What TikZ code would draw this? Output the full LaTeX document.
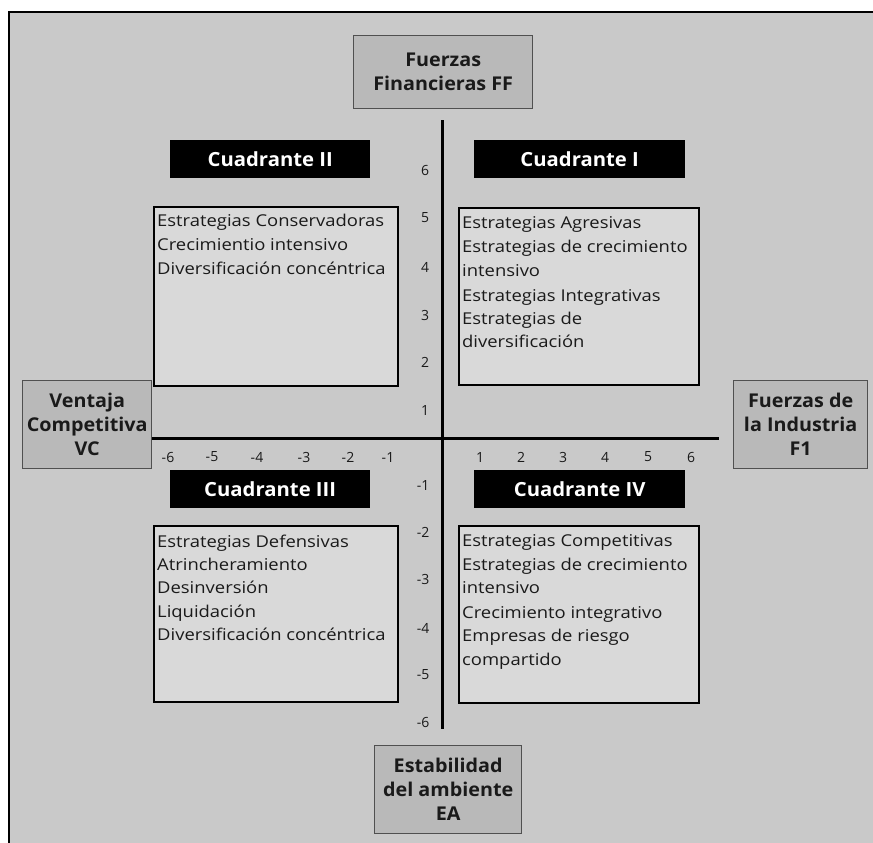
\documentclass[tikz,border=0pt]{standalone}
\usepackage{fontspec}
\setmainfont{Open Sans}
\newfontfamily\bodyfont[FakeStretch=1.13]{Open Sans}
\newfontfamily\labfont[FakeStretch=1.04]{Open Sans}
\definecolor{panel}{HTML}{C9C9C9}
\definecolor{qfill}{HTML}{D9D9D9}
\definecolor{lfill}{HTML}{B9B9B9}
\definecolor{lborder}{HTML}{505050}
\definecolor{ink}{HTML}{1A1A1A}
\begin{document}
\begin{tikzpicture}[x=1pt,y=-1pt,
  qbox/.style={draw=black,line width=1.8pt,fill=qfill,anchor=north west,inner sep=0pt},
  lbox/.style={draw=lborder,line width=1.4pt,fill=lfill,anchor=north west,inner sep=0pt},
  cbox/.style={fill=black,anchor=north west,inner sep=0pt},
  ctxt/.style={text=white,font=\labfont\fontsize{19.5}{22}\selectfont\bfseries,inner sep=0pt},
  ltxt/.style={text=ink,font=\labfont\fontsize{19}{24}\selectfont\bfseries,align=center,inner sep=0pt},
  btxt/.style={text=ink,font=\bodyfont\fontsize{16.3}{20}\selectfont,anchor=base west,inner sep=0pt},
  tick/.style={text=ink,font=\fontsize{14}{16}\selectfont,inner sep=0pt},
  axis/.style={line width=3pt,black}]
\useasboundingbox (0,0) rectangle (873,843);
\fill[white] (0,0) rectangle (873,843);
\fill[panel] (9,12) rectangle (873,843);
\draw[line width=2.2pt,black] (9,843) -- (9,12) -- (873,12);

% axes
\coordinate (vtop) at (442,120);
\coordinate (vbot) at (442,729);
\coordinate (hl) at (152,438);
\coordinate (hr) at (719,438);
\draw[axis] (vtop) -- (vbot);
\draw[axis] (hl) -- (hr);

% label boxes
\node[lbox,minimum width=179pt,minimum height=73pt] (ff) at (353,35) {};
\node[ltxt] (fft) at (ff.center) {Fuerzas\\Financieras FF};
\node[lbox,minimum width=129pt,minimum height=88pt] (vc) at (22,380) {};
\node[ltxt] (vct) at (vc.center) {Ventaja\\Competitiva\\VC};
\node[lbox,minimum width=134pt,minimum height=88pt] (fi) at (733,380) {};
\node[ltxt] (fit) at (fi.center) {Fuerzas de\\la Industria\\F1};
\node[lbox,minimum width=147pt,minimum height=88pt] (ea) at (374,745) {};
\node[ltxt] (eat) at (ea.center) {Estabilidad\\del ambiente\\EA};

% cuadrante labels
\node[cbox,minimum width=200pt,minimum height=38pt] (c2) at (170,140) {};
\node[ctxt] (c2t) at (c2.center) {Cuadrante II};
\node[cbox,minimum width=211pt,minimum height=38pt] (c1) at (474,140) {};
\node[ctxt] (c1t) at (c1.center) {Cuadrante I};
\node[cbox,minimum width=200pt,minimum height=38pt] (c3) at (170,470) {};
\node[ctxt] (c3t) at (c3.center) {Cuadrante III};
\node[cbox,minimum width=211pt,minimum height=38pt] (c4) at (474,470) {};
\node[ctxt] (c4t) at (c4.center) {Cuadrante IV};

% quadrant boxes
\node[qbox,minimum width=244pt,minimum height=179pt] (q2) at (153,206) {};
\node[qbox,minimum width=240pt,minimum height=177pt] (q1) at (458,207) {};
\node[qbox,minimum width=244pt,minimum height=176pt] (q3) at (153,525) {};
\node[qbox,minimum width=240pt,minimum height=177pt] (q4) at (458,525) {};

% quadrant texts
\node[btxt] (q2a) at (157,226) {Estrategias Conservadoras};
\node[btxt] (q2b) at (157,250) {Crecimientio intensivo};
\node[btxt] (q2c) at (157,274) {Diversificación concéntrica};

\node[btxt] (q1a) at (462,228) {Estrategias Agresivas};
\node[btxt] (q1b) at (462,252) {Estrategias de crecimiento};
\node[btxt] (q1c) at (462,276) {intensivo};
\node[btxt] (q1d) at (462,301) {Estrategias Integrativas};
\node[btxt] (q1e) at (462,324) {Estrategias de};
\node[btxt] (q1f) at (462,347) {diversificación};

\node[btxt] (q3a) at (157,547) {Estrategias Defensivas};
\node[btxt] (q3b) at (157,570) {Atrincheramiento};
\node[btxt] (q3c) at (157,593) {Desinversión};
\node[btxt] (q3d) at (157,617) {Liquidación};
\node[btxt] (q3e) at (157,640) {Diversificación concéntrica};

\node[btxt] (q4a) at (462,546) {Estrategias Competitivas};
\node[btxt] (q4b) at (462,570) {Estrategias de crecimiento};
\node[btxt] (q4c) at (462,593) {intensivo};
\node[btxt] (q4d) at (462,618) {Crecimiento integrativo};
\node[btxt] (q4e) at (462,641) {Empresas de riesgo};
\node[btxt] (q4f) at (462,665) {compartido};

% y ticks
\node[tick] (y6) at (425,170) {6};
\node[tick] (y5) at (425,218) {5};
\node[tick] (y4) at (425,267) {4};
\node[tick] (y3) at (425,315) {3};
\node[tick] (y2) at (425,362) {2};
\node[tick] (y1) at (425,410) {1};
\node[tick] (ym1) at (423,485) {-1};
\node[tick] (ym2) at (423,532) {-2};
\node[tick] (ym3) at (423,579) {-3};
\node[tick] (ym4) at (423,628) {-4};
\node[tick] (ym5) at (423,675) {-5};
\node[tick] (ym6) at (423,722) {-6};

% x ticks
\node[tick] (xm6) at (168,457) {-6};
\node[tick] (xm5) at (212,457) {-5};
\node[tick] (xm4) at (257,457) {-4};
\node[tick] (xm3) at (304,457) {-3};
\node[tick] (xm2) at (348,457) {-2};
\node[tick] (xm1) at (388,457) {-1};
\node[tick] (x1) at (480,457) {1};
\node[tick] (x2) at (521,457) {2};
\node[tick] (x3) at (563,457) {3};
\node[tick] (x4) at (605,457) {4};
\node[tick] (x5) at (648,457) {5};
\node[tick] (x6) at (691,457) {6};
\end{tikzpicture}
\end{document}
